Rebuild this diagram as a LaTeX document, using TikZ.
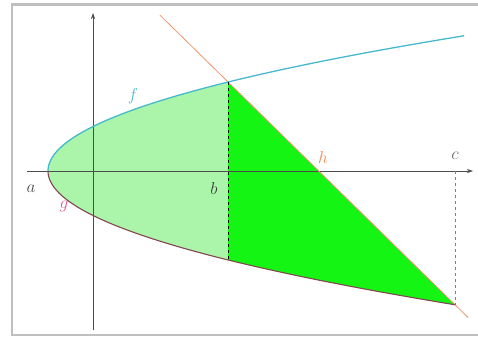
\documentclass[tikz,border=0pt]{standalone}
\usetikzlibrary{arrows.meta}
\definecolor{fcol}{RGB}{70,185,205}
\definecolor{gcol}{RGB}{130,70,80}
\definecolor{hcol}{RGB}{235,150,110}
\definecolor{lgreen}{RGB}{170,245,170}
\definecolor{dgreen}{RGB}{20,245,20}
\definecolor{glab}{RGB}{220,90,150}
\definecolor{hlab}{RGB}{240,140,90}
\tikzset{
  axis/.style={draw=black!70,line width=0.6pt,-{Stealth[length=6pt,width=4pt]}},
  curvef/.style={draw=fcol,line width=1.3pt},
  curveg/.style={draw=gcol,line width=1.1pt},
  lineh/.style={draw=hcol,line width=0.8pt},
  guide/.style={draw=black,dashed,line width=0.6pt},
  guide2/.style={draw=black!50,dashed,line width=0.5pt},
  lab/.style={font=\fontsize{16}{16}\selectfont,inner sep=0pt}
}
\begin{document}
\begin{tikzpicture}[x=1pt,y=-1pt]
\useasboundingbox (0,0) rectangle (478,341);
\draw[black!25,line width=2.5pt] (12,4.5) rectangle (484,335);
% fills
\fill[lgreen] plot[domain=-13.42:13.42,samples=80] ({48+\x*\x},{171+6.63*\x}) -- cycle;
\fill[dgreen] (228,82) -- (455,304.7) -- plot[domain=20.17:13.42,samples=40] ({48+\x*\x},{171+6.63*\x}) -- cycle;
% axes
\coordinate (xs) at (27,171);
\coordinate (xe) at (473,171);
\coordinate (ys) at (93,330);
\coordinate (ye) at (93,13);
\draw[axis] (xs) -- (xe);
\draw[axis] (ys) -- (ye);
% line h
\coordinate (h1) at (160,15.2);
\coordinate (h2) at (468,317.5);
\draw[lineh] (h1) -- (h2);
% curves
\draw[curvef] plot[domain=0:20.4,samples=80] ({48+\x*\x},{171-6.63*\x});
\draw[curveg] plot[domain=0:20.17,samples=80] ({48+\x*\x},{171+6.63*\x});
% dashed
\coordinate (bt) at (228,82);
\coordinate (bb) at (228,260);
\coordinate (ct) at (455,171);
\coordinate (cb) at (455,304.7);
\draw[guide] (bt) -- (bb);
\draw[guide2] (ct) -- (cb);
% labels
\node[lab,text=fcol] (lf) at (133,96) {$f$};
\node[lab,text=glab] (lg) at (64,206) {$g$};
\node[lab,text=hlab] (lh) at (323,157) {$h$};
\node[lab,text=black!70] (la) at (31,189) {$a$};
\node[lab,text=black!75] (lb) at (214,188) {$b$};
\node[lab,text=black!60] (lc) at (455,156) {$c$};
\end{tikzpicture}
\end{document}
